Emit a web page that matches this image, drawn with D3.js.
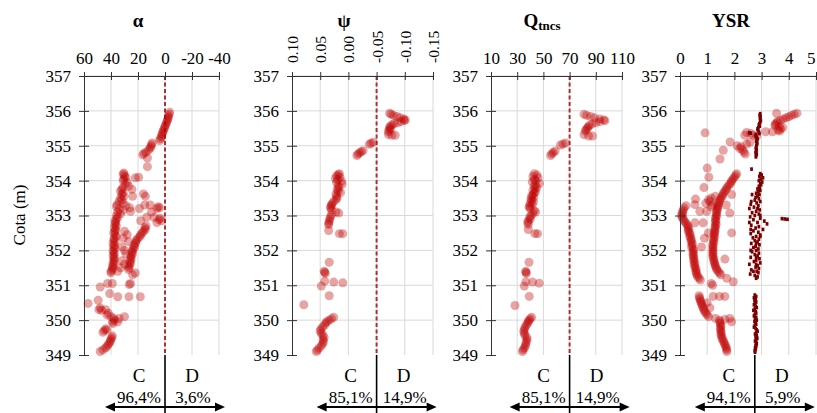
<!DOCTYPE html>
<html><head><meta charset="utf-8">
<script src="https://cdn.jsdelivr.net/npm/d3@7"></script>
<style>
body{margin:0;background:#fff}
svg{display:block}
text{font-family:"Liberation Serif","Times New Roman",serif;fill:#000}
</style>
</head><body>
<svg id="c" width="817" height="413"></svg>
<script>
// ---------------- DATA ----------------
const depthTicks = [357,356,355,354,353,352,351,350,349];

const alphaTicks = [60,40,20,0,-20,-40];
const alphaTickLabels = ["60","40","20","0","-20","-40"];
const psiTicks = [0.10,0.05,0.00,-0.05,-0.10,-0.15];
const psiTickLabels = ["0.10","0.05","0.00","-0.05","-0.10","-0.15"];
const qTicks = [10,30,50,70,90,110];
const qTickLabels = ["10","30","50","70","90","110"];
const ysrTicks = [0,1,2,3,4,5];
const ysrTickLabels = ["0","1","2","3","4","5"];

const titles = ["α","ψ","Q","YSR"];
const thresholds = [0,-0.05,70,2.75];
const pctC = ["96,4%","85,1%","85,1%","94,1%"];
const pctD = ["3,6%","14,9%","14,9%","5,9%"];

// [depth (m), alpha]
const alphaPoints = [
[355.96,-3.5],[355.90,-3],[355.85,-2.5],[355.80,-2.5],[355.75,-2],[355.70,-1.5],[355.65,-1],[355.60,-0.5],[355.55,0],[355.50,0.5],[355.45,1],[355.40,1.5],[355.35,2],[355.30,2.5],[355.25,2.5],[355.20,3.5],[355.15,4],
[355.08,9.5],[355.03,10],[354.98,10.5],[354.93,11],[354.88,12],[354.82,14],[354.78,15.5],[354.74,16.5],
[354.65,13],[354.40,13],[354.10,19.5],[353.75,24.5],[353.55,14.5],
[354.22,30.5],[354.18,31],[354.14,30],[354.10,29],[354.05,30.5],[354.00,31],[353.95,28],[353.90,29.5],[353.84,27],[353.80,31],[353.75,32],[353.70,33],[353.65,31],[353.60,32],[353.55,30.5],[353.50,33],[353.45,32],[353.40,34],[353.35,31],[353.31,35.5],[353.28,29],[353.25,36],[353.22,26],[353.18,34],[353.15,31],[353.12,25.5],[353.10,35],[353.05,33],[353.00,36],[352.95,35],
[354.08,22],[353.62,16],[353.55,24],[353.30,15],[353.30,11],[353.20,19],[352.95,13.5],[352.85,18],
[353.25,5],[353.22,4],[353.20,6],[352.92,3.5],[352.88,4.5],[352.85,2.5],[352.80,6],[352.95,8],[353.10,10],
[352.90,36],[352.85,37],[352.80,36.5],[352.75,37],[352.70,36],[352.65,37.5],[352.60,36.5],[352.55,37],[352.50,38],[352.45,37],[352.40,36],[352.35,37.5],[352.30,38],[352.25,37],[352.20,38.5],[352.15,37.5],[352.10,38],[352.05,37],[352.00,38.5],[351.95,38],[351.90,37.5],[351.85,38.5],[351.80,37.5],[351.75,38],[351.70,37.5],[351.65,38.5],[351.60,38],[351.55,39],[351.50,38.5],[351.45,39],[351.40,40],[351.36,40],
[352.70,14],[352.65,15],[352.60,14.5],[352.55,16],[352.50,17],[352.45,18],[352.40,18.5],[352.35,20],[352.30,21],[352.25,21.5],[352.20,22],[352.15,23],[352.10,22.5],[352.05,23.5],[352.00,24],[351.95,24.5],[351.90,24],[351.85,25],[351.80,25.5],[351.75,25],[351.70,26],[351.65,25.5],[351.60,26],[351.55,27],[351.50,26.5],[351.45,27],
[352.55,30],[352.45,28],[352.35,31],[352.25,27],[352.10,32],[352.00,30],[351.90,29],[351.70,32],[351.60,30],[351.50,33],[351.40,35],[351.35,22],[351.30,24],
[351.05,25.5],[351.02,26.5],[351.05,42.5],[351.05,39],[350.95,48],[350.76,41],[350.67,35],[350.67,26.7],[350.67,18.3],
[350.48,57],[350.57,49.5],[350.35,48],[350.30,49],[350.28,47],[350.30,44],
[350.20,42],[350.15,43],[350.10,40],[350.05,38],[350.00,37.5],[349.95,39],[349.90,38.5],[350.10,30],[350.05,34],[349.95,35],
[349.75,44],[349.70,45],[349.65,46],[349.72,43],
[349.55,39],[349.50,39.5],[349.45,40],[349.40,40.5],[349.35,41],[349.30,42],[349.25,43],[349.20,44],[349.15,46],[349.10,48]
];

// [depth (m), psi]
const psiPoints = [
[355.93,-0.073],[355.90,-0.076],[355.87,-0.080],[355.84,-0.086],[355.80,-0.092],[355.77,-0.098],[355.74,-0.101],[355.72,-0.099],[355.69,-0.093],[355.66,-0.087],[355.63,-0.081],[355.60,-0.077],[355.56,-0.074],[355.52,-0.073],[355.48,-0.075],[355.45,-0.072],[355.40,-0.071],[355.32,-0.071],[355.30,-0.077],[355.30,-0.083],
[355.10,-0.044],[355.07,-0.040],[355.04,-0.037],[354.86,-0.026],[354.83,-0.023],[354.80,-0.020],[354.76,-0.017],[354.72,-0.015],
[354.20,0.016],[354.17,0.018],[354.14,0.021],[354.10,0.015],[354.06,0.023],[354.02,0.019],[353.98,0.012],[353.95,0.021],[353.90,0.011],[353.85,0.018],[353.80,0.017],[353.75,0.020],[353.70,0.018],[353.66,0.014],[353.62,0.022],[353.56,0.021],[353.50,0.020],[353.46,0.022],[353.40,0.026],[353.34,0.029],[353.30,0.030],[353.26,0.031],[353.22,0.032],[353.16,0.030],[353.10,0.022],[353.07,0.017],[353.02,0.030],[352.96,0.032],[352.90,0.033],[352.84,0.034],[352.78,0.035],[352.74,0.035],[352.57,0.035],[352.48,0.016],[352.48,0.010],
[351.66,0.034],[351.40,0.043],[351.37,0.042],[351.34,0.041],[351.12,0.042],[351.09,0.026],[351.07,0.010],[350.98,0.048],[350.70,0.034],[350.44,0.079],
[350.08,0.026],[350.04,0.030],[350.00,0.034],[349.96,0.038],[349.92,0.040],[349.86,0.042],[349.80,0.046],[349.74,0.049],[349.68,0.050],[349.62,0.048],[349.56,0.045],[349.50,0.043],[349.44,0.045],[349.38,0.044],[349.32,0.046],[349.26,0.048],[349.20,0.052],[349.14,0.055],[349.10,0.057]
];

// [depth (m), Qtncs]
const qPoints = [
[355.90,81],[355.87,83],[355.84,86],[355.80,89],[355.77,93],[355.74,96],[355.72,97],[355.69,93],[355.66,90],[355.62,87],[355.58,85],[355.54,84],[355.50,83.5],[355.46,82.5],[355.42,82],[355.32,81],[355.28,84.5],[355.28,87.5],
[355.08,67],[355.05,65],[355.02,63],[354.85,59],[354.81,57.5],[354.77,56.5],[354.72,55.5],
[354.20,43],[354.16,45],[354.12,42],[354.08,46],[354.04,43],[354.00,44],[353.96,41.5],[353.92,47],[353.88,44],[353.84,43],[353.80,45],[353.76,43.5],[353.72,42],[353.68,44],[353.64,43],[353.60,42],[353.56,41],[353.52,42.5],[353.48,40.5],[353.44,41],[353.40,42.5],[353.36,40],[353.32,41.5],[353.28,39.5],[353.24,39],[353.20,40],[353.14,43],[353.10,44],[353.06,42],[353.00,40.5],[352.95,39.5],[352.90,40],[352.85,38.5],[352.80,38],[352.75,38.5],[352.60,38.4],[352.48,45.6],[352.48,43.5],
[351.66,39],[351.40,36.5],[351.37,36.7],[351.34,37],[351.10,36.7],[351.09,41.8],[351.06,46.8],[350.98,35.4],[350.68,39.2],[350.42,28.3],
[350.08,41],[350.04,40],[350.00,39],[349.96,38.5],[349.91,38],[349.86,37],[349.80,36],[349.74,35.5],[349.68,35],[349.62,35.4],[349.56,36],[349.50,37.4],[349.44,37.5],[349.38,37],[349.32,36.5],[349.26,36.2],[349.20,35.5],[349.15,34.5],[349.10,34]
];

// [depth (m), YSR]
const ysrPoints = [
[355.93,4.3],[355.90,4.2],[355.87,4.1],[355.83,4.0],[355.80,3.9],[355.77,3.8],[355.73,3.7],[355.70,3.6],[355.66,3.55],[355.62,3.5],[355.58,3.5],[355.55,3.65],[355.52,3.78],[355.48,3.7],[355.45,3.6],[355.93,3.55],[355.42,3.66],[355.40,3.4],[355.40,3.15],[355.38,2.45],[355.35,2.6],[355.30,2.7],[355.27,2.82],
[355.37,0.92],[355.30,2.38],[355.10,2.57],[355.05,2.45],[355.00,2.1],[354.97,2.25],[354.92,2.2],[354.88,2.3],[354.82,2.35],[354.76,2.4],[355.11,1.84],[354.87,1.59],[354.62,1.47],[354.36,1.0],[354.10,1.06],[353.80,0.88],[353.47,0.57],
[354.20,2.08],[354.15,2.05],[354.10,2.0],[354.05,1.95],[354.00,1.9],[353.95,1.88],[353.90,1.83],[353.85,1.78],[353.80,1.72],[353.75,1.7],[353.70,1.65],[353.65,1.6],[353.60,1.58],[353.55,1.55],[353.50,1.5],[353.45,1.47],[353.40,1.45],[353.35,1.42],[353.30,1.4],[353.25,1.4],[353.20,1.38],[353.15,1.36],[353.10,1.35],[353.05,1.33],[353.00,1.35],[352.95,1.32],[352.90,1.3],[352.85,1.32],[352.80,1.3],[352.75,1.33],[352.70,1.3],[352.65,1.28],[352.60,1.3],[352.55,1.27],[352.50,1.28],[352.45,1.25],[352.40,1.27],[352.35,1.25],[352.30,1.22],[352.25,1.25],[352.20,1.22],[352.15,1.2],[352.10,1.22],[352.05,1.2],[352.00,1.22],[351.95,1.2],[351.90,1.22],[351.85,1.2],[351.80,1.22],[351.75,1.25],[351.70,1.24],[351.65,1.27],[351.60,1.28],[351.55,1.3],[351.50,1.33],[351.45,1.35],[351.40,1.4],[351.35,1.45],[351.30,1.5],
[353.50,1.15],[353.45,1.05],[353.40,1.1],[353.35,0.95],[353.30,1.2],[353.55,1.3],[353.25,1.15],[353.60,1.9],[353.30,1.7],[353.07,1.83],[352.50,1.9],[353.31,0.55],[353.12,0.73],[353.12,0.98],[352.79,0.55],[352.79,0.85],[352.50,1.04],[352.10,0.79],[352.35,0.9],[351.75,1.65],
[353.28,0.22],[353.22,0.15],[353.15,0.12],[353.10,0.08],[353.05,0.1],[353.00,0.05],[352.95,0.08],[352.90,0.12],[352.85,0.15],[352.80,0.2],[352.75,0.25],[352.70,0.3],[352.65,0.3],[352.60,0.32],[352.55,0.3],[352.50,0.35],[352.45,0.38],[352.40,0.35],[352.35,0.4],[352.30,0.42],[352.25,0.4],[352.20,0.45],[352.15,0.45],[352.10,0.42],[352.05,0.48],[352.00,0.5],[351.95,0.47],[351.90,0.5],[351.85,0.48],[351.80,0.5],[351.75,0.52],[351.70,0.5],[351.65,0.55],[351.60,0.52],[351.55,0.55],[351.50,0.55],[351.45,0.6],[351.40,0.58],[351.35,0.6],[351.30,0.62],[351.25,0.65],[351.20,0.7],[351.15,0.75],
[351.05,1.15],[351.00,1.2],[351.20,1.72],[351.10,1.96],
[350.70,0.7],[350.65,0.72],[350.60,0.73],[350.55,0.75],[350.50,0.78],[350.45,0.8],[350.40,0.82],[350.35,0.85],[350.30,0.88],[350.25,0.9],[350.20,0.95],[350.15,1.0],[350.10,1.05],
[350.68,1.65],[350.68,1.22],[350.68,1.45],[350.50,1.0],[350.35,1.1],[350.05,1.3],
[350.00,1.45],[349.95,1.47],[349.90,1.48],[349.85,1.5],[349.80,1.5],[349.75,1.48],[349.70,1.5],[349.65,1.52],[349.60,1.5],[349.55,1.52],[349.50,1.55],[349.45,1.55],[349.40,1.6],[349.35,1.62],[349.30,1.65],[349.25,1.68],[349.20,1.7],[349.15,1.72],[349.10,1.72],
[350.05,1.83],[349.95,1.9],[350.02,1.65]
];

// [depth (m), YSR limit]
const ysrLimitPoints = [
[355.92,2.95],[355.88,2.93],[355.84,2.96],[355.80,2.94],[355.76,2.95],[355.72,2.97],[355.68,2.95],[355.64,2.92],[355.60,2.9],[355.56,2.93],[355.52,2.88],[355.48,2.85],[355.44,2.87],[355.40,2.9],[355.37,2.55],[355.36,2.6],[355.35,2.92],[355.32,2.8],[355.28,2.78],[355.24,2.82],[355.20,2.85],[355.16,2.82],[355.12,2.8],[355.08,2.84],[355.04,2.83],[355.00,2.81],[354.96,2.8],[354.92,2.79],[354.88,2.82],[354.84,2.8],[354.80,2.78],[354.76,2.82],[354.72,2.8],[354.68,2.79],
[354.33,2.63],
[354.20,2.95],[354.16,3.0],[354.12,2.92],[354.08,3.05],[354.04,2.97],[354.00,2.9],[353.96,3.02],[353.92,2.95],[353.88,2.98],[353.84,2.9],[353.80,2.93],[353.76,2.85],[353.72,2.95],[353.68,2.88],[353.64,2.8],[353.60,2.92],[353.56,2.85],[353.52,2.78],[353.48,2.9],[353.44,2.75],[353.40,2.95],[353.36,2.82],[353.32,2.6],[353.28,2.88],[353.24,2.72],[353.20,2.55],[353.16,2.93],[353.12,2.8],[353.08,2.65],[353.04,2.9],[353.00,2.75],[352.96,2.58],[352.92,2.95],[352.90,3.85],[352.89,3.95],[352.91,3.75],[352.88,2.7],[352.84,3.1],[352.80,2.85],[352.76,3.2],[352.72,2.62],[352.68,2.9],[352.64,2.78],[352.60,3.05],[352.56,2.7],[352.52,2.88],[352.48,2.6],[352.44,2.95],[352.40,2.8],[352.36,2.68],[352.32,2.9],[352.28,2.75],[352.24,2.85],[352.20,2.62],[352.16,2.92],[352.12,2.78],[352.08,2.7],[352.04,2.88],[352.00,2.8],[351.96,2.65],[351.92,2.9],[351.88,2.75],[351.84,2.85],[351.80,2.6],[351.76,2.92],[351.72,2.8],[351.68,2.72],[351.64,2.95],[351.60,2.55],[351.56,2.85],[351.52,2.78],[351.48,2.9],[351.44,2.62],[351.40,2.82],[351.36,2.88],[351.32,2.58],[351.28,2.75],[351.24,2.85],[351.20,2.8],
[353.60,2.65],[353.40,2.62],[353.20,2.85],[353.00,2.95],[352.80,2.55],[352.60,2.6],[352.40,2.95],[352.20,2.8],[352.00,2.6],[351.80,2.8],[351.60,2.8],[351.40,2.7],
[350.72,2.75],[350.68,2.8],[350.64,2.72],[350.60,2.78],[350.56,2.74],[350.52,2.8],[350.48,2.76],[350.44,2.72],[350.40,2.78],[350.36,2.82],[350.32,2.75],[350.28,2.7],[350.24,2.78],[350.20,2.8],[350.16,2.75],[350.12,2.72],[350.08,2.8],[350.04,2.76],[350.00,2.82],[349.96,2.74],[349.92,2.78],[349.88,2.8],[349.84,2.75],[349.80,2.72],[349.76,2.78],[349.72,2.82],[349.68,2.85],[349.64,2.8],[349.60,2.76],[349.56,2.82],[349.52,2.78],[349.48,2.84],[349.44,2.8],[349.40,2.76],[349.36,2.8],[349.32,2.82],[349.28,2.78],[349.24,2.8],[349.20,2.76],[349.16,2.78],[349.12,2.75],[349.08,2.76]
];

// ---------------- CHART ----------------
const svg = d3.select("#c");
svg.append("rect").attr("width",817).attr("height",413).attr("fill","#fff");
const FONT = '"Liberation Serif","Times New Roman",serif';
const y = d3.scaleLinear().domain([357,349]).range([76,355]);

const panels = [
  {domain:[60,-40], range:[84,219], ticks:alphaTicks, labels:alphaTickLabels, pts:alphaPoints, dashed:true, rotate:false, titleX:138},
  {domain:[0.10,-0.15], range:[292,433], ticks:psiTicks, labels:psiTickLabels, pts:psiPoints, dashed:true, rotate:true, titleX:344},
  {domain:[10,110], range:[491,622], ticks:qTicks, labels:qTickLabels, pts:qPoints, dashed:true, rotate:false, titleX:542},
  {domain:[0,5], range:[680,816], ticks:ysrTicks, labels:ysrTickLabels, pts:ysrPoints, dashed:false, rotate:false, titleX:731, limit:ysrLimitPoints}
];

panels.forEach((p,i)=>{
  const x = d3.scaleLinear().domain(p.domain).range(p.range);
  const g = svg.append("g");
  // grid
  g.append("g").selectAll("line").data(p.ticks.slice(1)).join("line")
    .attr("x1",d=>x(d)).attr("x2",d=>x(d)).attr("y1",y(357)).attr("y2",y(349))
    .attr("stroke","#d9d9d9").attr("stroke-width",1);
  g.append("g").selectAll("line").data(depthTicks.slice(0,-1)).join("line")
    .attr("x1",p.range[0]).attr("x2",p.range[1]).attr("y1",d=>y(d)).attr("y2",d=>y(d))
    .attr("stroke","#d9d9d9").attr("stroke-width",1);

  // threshold dashed
  const tx = x(thresholds[i]);
  if(p.dashed){
    g.append("line").attr("x1",tx).attr("x2",tx).attr("y1",y(357)).attr("y2",y(349))
      .attr("stroke","#a83232").attr("stroke-width",2).attr("stroke-dasharray","4,2.5");
  }

  // points
  g.append("g").selectAll("circle").data(p.pts).join("circle")
    .attr("cx",d=>x(d[1])).attr("cy",d=>y(d[0])).attr("r",4.5)
    .attr("fill","#c00000").attr("fill-opacity",0.36);

  if(p.limit){
    g.append("g").selectAll("rect").data(p.limit).join("rect")
      .attr("x",d=>x(d[1])-1.4).attr("y",d=>y(d[0])-1.8).attr("width",2.8).attr("height",3.6)
      .attr("fill","#7a0000");
  }

  // axes
  const ax = g.append("g").attr("transform",`translate(0,${y(357)})`)
    .call(d3.axisTop(x).tickValues(p.ticks).tickFormat((d,k)=>p.labels[k]).tickSize(4).tickSizeOuter(0).tickPadding(8));
  g.append("g").attr("transform",`translate(0,${y(357)})`)
    .call(d3.axisBottom(x).tickValues(p.ticks).tickFormat("").tickSize(4).tickSizeOuter(0))
    .call(s=>s.select(".domain").remove());
  ax.attr("font-family",FONT).attr("font-size",17);
  ax.selectAll("path,line").attr("stroke","#333");
  ax.selectAll("text").attr("fill","#000");
  if(p.rotate){
    ax.selectAll("text").attr("font-size",15.5).attr("text-anchor","start")
      .attr("y",0).attr("dy","0.35em").attr("transform","translate(0,-13) rotate(-90)");
  }
  if(i===3){
    // keep the last label inside the picture
    ax.selectAll(".tick text").filter((d,k)=>k===p.ticks.length-1).attr("text-anchor","end").attr("dx","-1");
  }

  const ay = g.append("g").attr("transform",`translate(${p.range[0]},0)`)
    .call(d3.axisLeft(y).tickValues(depthTicks).tickSize(5).tickSizeOuter(0).tickPadding(8));
  g.append("g").attr("transform",`translate(${p.range[0]},0)`)
    .call(d3.axisRight(y).tickValues(depthTicks.slice(1)).tickFormat("").tickSize(5).tickSizeOuter(0))
    .call(s=>s.select(".domain").remove());
  ay.attr("font-family",FONT).attr("font-size",17);
  ay.selectAll("path,line").attr("stroke","#333");
  ay.selectAll("text").attr("fill","#000");
  svg.selectAll(".tick line").attr("stroke","#333");

  // title
  if(i===2){
    const t = svg.append("text").attr("x",p.titleX).attr("y",27).attr("text-anchor","middle")
      .attr("font-weight","bold").attr("font-size",19);
    t.append("tspan").text("Q");
    t.append("tspan").attr("font-size",13).attr("dy",3).text("tncs");
  } else {
    svg.append("text").attr("x",p.titleX).attr("y",27).attr("text-anchor","middle")
      .attr("font-weight","bold").attr("font-size",19).text(titles[i]);
  }

  // bottom annotation
  svg.append("line").attr("x1",tx).attr("x2",tx).attr("y1",y(349)).attr("y2",413)
    .attr("stroke","#000").attr("stroke-width",1.6);
  svg.append("text").attr("x",tx-26).attr("y",382).attr("text-anchor","middle").attr("font-size",19).text("C");
  svg.append("text").attr("x",tx+27).attr("y",382).attr("text-anchor","middle").attr("font-size",19).text("D");
  svg.append("text").attr("x",tx-26).attr("y",403).attr("text-anchor","middle").attr("font-size",17).text(pctC[i]);
  svg.append("text").attr("x",tx+28).attr("y",403).attr("text-anchor","middle").attr("font-size",17).text(pctD[i]);
  const ay0 = 407, xl = tx-60, xr = tx+60;
  svg.append("line").attr("x1",xl+5).attr("x2",xr-5).attr("y1",ay0).attr("y2",ay0)
    .attr("stroke","#000").attr("stroke-width",1.8);
  svg.append("path").attr("d",`M${xl},${ay0}L${xl+10},${ay0-4.5}L${xl+10},${ay0+4.5}Z`).attr("fill","#000");
  svg.append("path").attr("d",`M${xr},${ay0}L${xr-10},${ay0-4.5}L${xr-10},${ay0+4.5}Z`).attr("fill","#000");
});

// y axis title
svg.append("text").attr("transform","translate(25,215) rotate(-90)").attr("text-anchor","middle")
  .attr("font-size",17).text("Cota (m)");
</script>
</body></html>
